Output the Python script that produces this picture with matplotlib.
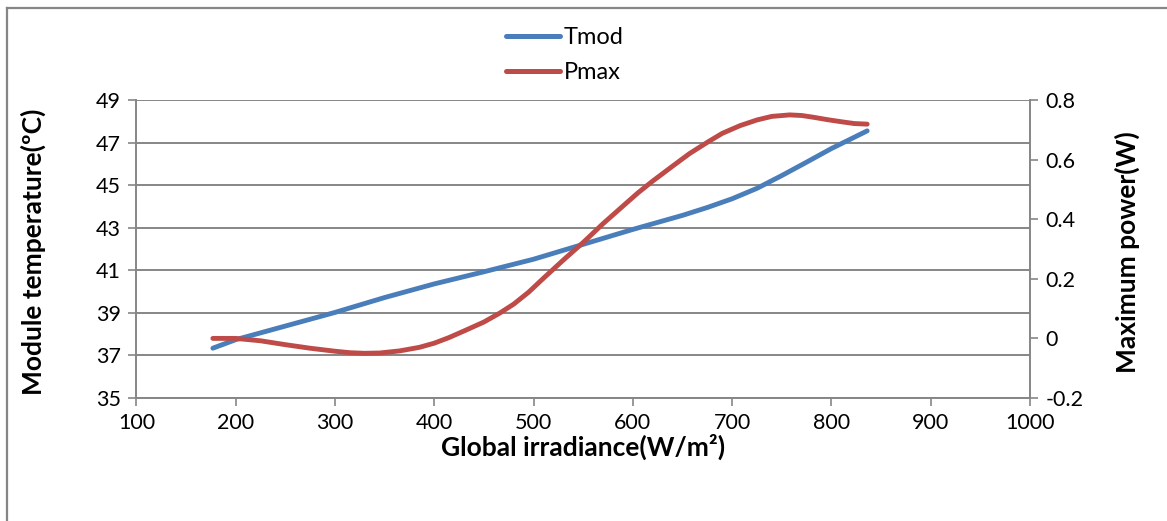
"""
Module temperature and maximum power vs global irradiance
"""

import matplotlib
matplotlib.use('Agg')
import matplotlib.pyplot as plt
from matplotlib.lines import Line2D

plt.rcParams['font.family'] = ['Lato', 'DejaVu Sans']

# values
irr_tmod = [177, 200, 250, 300, 350, 400, 450, 500, 550, 600, 625, 650, 675, 700,
            725, 750, 775, 800, 820, 836]
tmod = [37.34, 37.74, 38.38, 39.02, 39.72, 40.36, 40.93, 41.52, 42.22, 42.92,
        43.25, 43.58, 43.95, 44.36, 44.85, 45.45, 46.08, 46.72, 47.18, 47.55]

irr_pmax = [177, 200, 225, 250, 275, 300, 315, 330, 345, 365, 385, 400, 415, 430,
            450, 466, 480, 495, 511, 530, 550, 570, 590, 605, 620, 640, 657, 675,
            690, 708, 725, 740, 758, 770, 782, 796, 810, 823, 836]
pmax = [0.000, 0.000, -0.008, -0.021, -0.033, -0.043, -0.048, -0.050, -0.049,
        -0.042, -0.030, -0.016, 0.003, 0.025, 0.055, 0.085, 0.115, 0.155, 0.205,
        0.263, 0.322, 0.385, 0.444, 0.488, 0.528, 0.578, 0.620, 0.658, 0.688,
        0.714, 0.733, 0.745, 0.750, 0.748, 0.742, 0.734, 0.727, 0.721, 0.719]

x_ticks = list(range(100, 1001, 100))
left_ticks = list(range(35, 50, 2))
right_ticks = [-0.2, 0, 0.2, 0.4, 0.6, 0.8]
right_labels = ['-0.2', '0', '0.2', '0.4', '0.6', '0.8']

BLUE = '#4A7EBB'
RED = '#BE4B48'
GREY = '#868686'
W, H = 1167, 521

fig = plt.figure(figsize=(W / 100, H / 100), dpi=100)
ax = fig.add_axes([136.4 / W, 1 - 398 / H, (1030 - 136.4) / W, 298 / H])
ax2 = ax.twinx()

ax.set_xlim(100, 1000)
ax.set_ylim(35, 49)
ax2.set_ylim(-0.2, 0.8)

ax.set_xticks(x_ticks)
ax.set_yticks(left_ticks)
ax2.set_yticks(right_ticks)
ax2.set_yticklabels(right_labels)

ax.yaxis.grid(True, color=GREY, linewidth=1.4)
ax.set_axisbelow(True)

for a in (ax, ax2):
    for s in a.spines.values():
        s.set_visible(False)
    a.tick_params(direction='out', length=6, width=1.2, color=GREY,
                  labelsize=15.5, pad=5)
ax.spines['left'].set_visible(True)
ax.spines['bottom'].set_visible(True)
ax2.spines['right'].set_visible(True)
for s in (ax.spines['left'], ax.spines['bottom'], ax2.spines['right']):
    s.set_color(GREY)
    s.set_linewidth(1.4)

ax.plot(irr_tmod, tmod, color=BLUE, lw=3.5, solid_capstyle='round',
        solid_joinstyle='round', label='Tmod')
ax2.plot(irr_pmax, pmax, color=RED, lw=3.5, solid_capstyle='round',
         solid_joinstyle='round', label='Pmax')

ax.set_xlabel('Global irradiance(W/m²)', fontsize=19, fontweight='bold', va='center')
ax.set_ylabel('Module temperature(ºC)', fontsize=19, fontweight='bold', va='center')
ax2.set_ylabel('Maximum power(W)', fontsize=19, fontweight='bold', va='center')
ax.xaxis.set_label_coords(0.5, (398 - 447) / 298)
ax.yaxis.set_label_coords((33 - 136.4) / 893.6, 0.49)
ax2.yaxis.set_label_coords((1127 - 136.4) / 893.6, 0.49)

handles = [Line2D([], [], color=BLUE, lw=3.6, solid_capstyle='round'),
           Line2D([], [], color=RED, lw=3.6, solid_capstyle='round')]
fig.legend(handles, ['Tmod', 'Pmax'], loc='center',
           bbox_to_anchor=(565 / W, 1 - 55 / H), frameon=False,
           fontsize=17, handlelength=2.3, handletextpad=0.15, labelspacing=0.6)

# chart area border (left and top only are visible)
fig.add_artist(Line2D([7 / W, 7 / W], [0, 1 - 7.5 / H], color=GREY, lw=1.6))
fig.add_artist(Line2D([7 / W, 1], [1 - 7.5 / H, 1 - 7.5 / H], color=GREY, lw=1.6))

fig.savefig('out.png', dpi=100, facecolor='white')
